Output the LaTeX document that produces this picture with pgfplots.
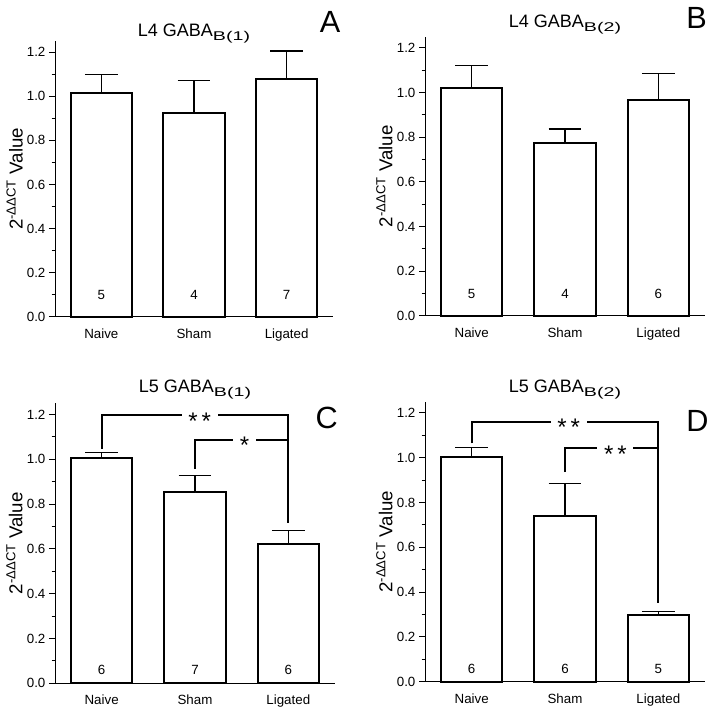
\documentclass[border=0pt]{standalone}
\usepackage{fontspec}
\setmainfont{Liberation Sans}
\usepackage{graphicx}
\usepackage{pgfplots}
\pgfplotsset{compat=1.18}

% subscript of the titles is stretched in the original
\newcommand{\gsub}[1]{\raisebox{-3.2pt}{\fontsize{9.5}{10}\selectfont\scalebox{1.55}[1]{#1}}}

\pgfplotsset{
  qpcr/.style={
    scale only axis,
    xmin=0.5, xmax=3.5, ymin=0, ymax=1.25,
    axis lines*=left,
    axis line style={line width=0.75pt},
    xtick={1,2,3}, xticklabels={Naive,Sham,Ligated},
    major x tick style={draw=none},
    ytick={0,0.2,0.4,0.6,0.8,1.0,1.2},
    minor y tick num=1,
    tick align=outside,
    major tick length=4.5pt, minor tick length=2.5pt,
    every tick/.style={line width=0.75pt, black},
    /pgf/number format/assume math mode=true,
    yticklabel style={/pgf/number format/fixed, /pgf/number format/fixed zerofill,
                      /pgf/number format/precision=1, inner xsep=1pt, xshift=-1.5pt},
    xticklabel style={yshift=-1pt},
    tick label style={font=\fontsize{10}{11}\selectfont},
    ylabel={2\textsuperscript{-ΔΔCT} Value},
    ylabel style={at={(axis description cs:-0.145,0.5)}, anchor=center,
                  font=\fontsize{14}{15}\selectfont},
    title style={at={(0.5,1)}, anchor=base, font=\fontsize{13.5}{14}\selectfont},
    clip=false,
  },
  bars/.style={
    ybar, bar width=0.66, bar shift=0pt, fill=white, draw=black, line width=1.5pt,
    error bars/.cd, y dir=plus, y explicit,
    error bar style={line width=0.9pt},
    error mark options={rotate=90, mark size=12.3pt, line width=0.9pt},
  },
  bracket/.style={black, line width=1.5pt, mark=none, line join=miter},
}
\tikzset{
  stars/.style={fill=white, inner xsep=5pt, inner ysep=1pt, anchor=base,
                yshift=-10.5pt, font=\fontsize{18}{18}\selectfont},
  count/.style={font=\fontsize{10}{11}\selectfont},
  letter/.style={font=\fontsize{23}{24}\selectfont},
}

\begin{document}
\begin{tikzpicture}
\path[use as bounding box] (0,0) rectangle (535.5pt,531.75pt);

%% A: L4 GABA B(1)
\begin{axis}[qpcr, at={(41.25pt,294pt)}, anchor=south west,
  width=208.5pt, height=207pt,
  title={L4 GABA\gsub{B(1)}}, title style={yshift=-2.5pt}]
\addplot[bars] coordinates {
  (1,1.016) +- (0,0.084)
  (2,0.925) +- (0,0.145)
  (3,1.077) +- (0,0.128)
};
\node[count] at (axis cs:1,0.10) {5};
\node[count] at (axis cs:2,0.10) {4};
\node[count] at (axis cs:3,0.10) {7};
\node[letter] at (rel axis cs:0.99,1.07) {A};
\end{axis}

%% B: L4 GABA B(2)
\begin{axis}[qpcr, at={(318.75pt,294.75pt)}, anchor=south west,
  width=210pt, height=209.6pt,
  title={L4 GABA\gsub{B(2)}}, title style={yshift=1pt}]
\addplot[bars] coordinates {
  (1,1.018) +- (0,0.102)
  (2,0.772) +- (0,0.064)
  (3,0.966) +- (0,0.118)
};
\node[count] at (axis cs:1,0.10) {5};
\node[count] at (axis cs:2,0.10) {4};
\node[count] at (axis cs:3,0.10) {6};
\node[letter] at (rel axis cs:0.97,1.068) {B};
\end{axis}

%% C: L5 GABA B(1)
\begin{axis}[qpcr, at={(41.25pt,19.3pt)}, anchor=south west,
  width=210pt, height=210pt,
  title={L5 GABA\gsub{B(1)}}, title style={yshift=2pt}]
\addplot[bars] coordinates {
  (1,1.004) +- (0,0.025)
  (2,0.852) +- (0,0.076)
  (3,0.623) +- (0,0.060)
};
\addplot[bracket] coordinates {(1,1.048) (1,1.197) (3,1.197) (3,0.714)};
\addplot[bracket] coordinates {(2,0.956) (2,1.087) (3,1.087)};
\node[stars] at (axis cs:2.05,1.197) {*\,*};
\node[stars] at (axis cs:2.53,1.087) {*};
\node[count] at (axis cs:1,0.06) {6};
\node[count] at (axis cs:2,0.06) {7};
\node[count] at (axis cs:3,0.06) {6};
\node[letter] at (rel axis cs:0.97,0.949) {C};
\end{axis}

%% D: L5 GABA B(2)
\begin{axis}[qpcr, at={(318.75pt,20.5pt)}, anchor=south west,
  width=210pt, height=210pt,
  title={L5 GABA\gsub{B(2)}}, title style={yshift=1pt}]
\addplot[bars] coordinates {
  (1,1.004) +- (0,0.040)
  (2,0.739) +- (0,0.144)
  (3,0.296) +- (0,0.016)
};
\addplot[bracket] coordinates {(1,1.064) (1,1.160) (3,1.160) (3,0.352)};
\addplot[bracket] coordinates {(2,0.935) (2,1.041) (3,1.041)};
\node[stars] at (axis cs:2.04,1.160) {*\,*};
\node[stars] at (axis cs:2.54,1.041) {*\,*};
\node[count] at (axis cs:1,0.055) {6};
\node[count] at (axis cs:2,0.055) {6};
\node[count] at (axis cs:3,0.055) {5};
\node[letter] at (rel axis cs:0.973,0.932) {D};
\end{axis}
\end{tikzpicture}
\end{document}
